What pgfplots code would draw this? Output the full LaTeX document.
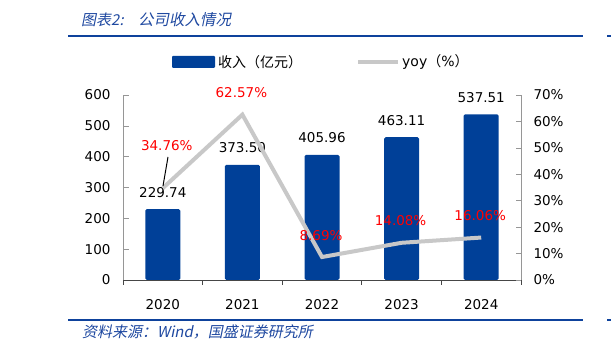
\documentclass[border=0pt]{standalone}
\usepackage{pgfplots}
\pgfplotsset{compat=1.18}
\usepackage{fontspec}
\setmainfont{DejaVu Sans}
\newfontfamily\cjk{Noto Sans CJK SC}
\newfontfamily\cjkit[FakeSlant=0.2]{Noto Sans CJK SC}
\definecolor{barblue}{RGB}{0,64,152}
\definecolor{rulec}{RGB}{14,66,156}
\definecolor{ttl}{RGB}{30,72,160}
\definecolor{yoygray}{RGB}{200,200,200}
\definecolor{lblred}{RGB}{255,0,0}
\definecolor{axgray}{RGB}{150,150,150}
\definecolor{axdark}{RGB}{70,70,70}

\begin{document}
\begin{tikzpicture}[x=1pt,y=1pt]
% rules
\draw[rulec, line width=2pt] (68,316.3) -- (583,316.3);
\draw[rulec, line width=2pt] (607,316.3) -- (611,316.3);
\draw[rulec, line width=2pt] (68,32) -- (583,32);
\draw[rulec, line width=2pt] (607,32) -- (611,32);
% title and source
\node[anchor=west, inner sep=0, text=ttl, font=\cjkit\fontsize{15}{15}\selectfont] at (81,332) {图表2:};
\node[anchor=west, inner sep=0, text=ttl, font=\cjkit\fontsize{15.5}{15.5}\selectfont] at (138,332) {公司收入情况};
\node[anchor=west, inner sep=0, text=ttl, font=\cjkit\fontsize{15}{15}\selectfont] at (82,20) {资料来源：Wind，国盛证券研究所};
% legend
\fill[barblue, rounded corners=1pt] (172,284) rectangle (215,296);
\node[anchor=west, inner sep=0, font=\cjk\fontsize{14}{14}\selectfont] at (218,290) {收入（亿元）};
\draw[yoygray, line width=4pt] (358,290) -- (398,290);
\node[anchor=west, inner sep=0, font=\fontsize{14}{14}\selectfont] at (402,290) {yoy{\cjk（}\%{\cjk）}};

\begin{axis}[
  at={(123pt,72pt)}, anchor=south west,
  scale only axis, width=398pt, height=185pt,
  xmin=-0.5, xmax=4.5, ymin=0, ymax=600,
  axis y line*=left, axis x line*=bottom,
  y axis line style={axgray, line width=0.8pt, -},
  x axis line style={axdark, line width=0.8pt, -},
  ytick={0,100,200,300,400,500,600},
  yticklabels={0,100,200,300,400,500,600},
  xtick={0,1,2,3,4},
  xticklabels={2020,2021,2022,2023,2024},
  minor xtick={-0.5,0.5,1.5,2.5,3.5,4.5},
  tick align=inside,
  major x tick style={draw=none},
  minor x tick style={axdark, line width=0.6pt},
  minor tick length=5pt,
  major tick length=6pt,
  ytick style={axgray, line width=0.6pt},
  tick label style={font=\fontsize{13.5}{13.5}\selectfont, text=black},
  yticklabel style={xshift=-9pt},
  xticklabel style={yshift=-10pt},
  ybar, bar width=35pt,
  point meta=explicit symbolic,
  nodes near coords,
  nodes near coords style={anchor=base, inner sep=0pt, yshift=12pt, font=\fontsize{13.5}{13.5}\selectfont, text=black},
  clip=false,
]
\addplot[fill=barblue, draw=none, rounded corners=1.5pt] coordinates {
  (0,229.74) [229.74]
  (1,373.50) [373.50]
  (2,405.96) [405.96]
  (3,463.11) [463.11]
  (4,537.51) [537.51]
};
\end{axis}

\begin{axis}[
  at={(123pt,72pt)}, anchor=south west,
  scale only axis, width=398pt, height=185pt,
  xmin=-0.5, xmax=4.5, ymin=0, ymax=70,
  axis y line*=right, axis x line=none,
  y axis line style={axgray, line width=0.8pt, -},
  ytick={0,10,20,30,40,50,60,70},
  yticklabels={0\%,10\%,20\%,30\%,40\%,50\%,60\%,70\%},
  tick align=inside,
  major tick length=5pt,
  ytick style={axgray, line width=0.6pt},
  tick label style={font=\fontsize{13.5}{13.5}\selectfont, text=black},
  yticklabel style={xshift=9pt},
  clip=false,
]
\addplot[yoygray, line width=4pt, mark=none] coordinates {
  (0,34.76) (1,62.57) (2,8.69) (3,14.08) (4,16.06)
};
\node[anchor=base, inner sep=0, text=lblred, font=\fontsize{13.5}{13.5}\selectfont] at (axis cs:0,34.76) [xshift=4pt, yshift=37.5pt] {34.76\%};
\node[anchor=base, inner sep=0, text=lblred, font=\fontsize{13.5}{13.5}\selectfont] at (axis cs:1,62.57) [xshift=-1pt, yshift=17pt] {62.57\%};
\node[anchor=base, inner sep=0, text=lblred, font=\fontsize{13.5}{13.5}\selectfont] at (axis cs:2,8.69) [xshift=-1pt, yshift=17pt] {8.69\%};
\node[anchor=base, inner sep=0, text=lblred, font=\fontsize{13.5}{13.5}\selectfont] at (axis cs:3,14.08) [xshift=-1pt, yshift=17pt] {14.08\%};
\node[anchor=base, inner sep=0, text=lblred, font=\fontsize{13.5}{13.5}\selectfont] at (axis cs:4,16.06) [xshift=-1pt, yshift=17pt] {16.06\%};
\end{axis}
\draw[black, line width=1pt] (163,166) -- (168,195);
\pgfresetboundingbox
\useasboundingbox (0,0) rectangle (611,352);
\end{tikzpicture}
\end{document}
